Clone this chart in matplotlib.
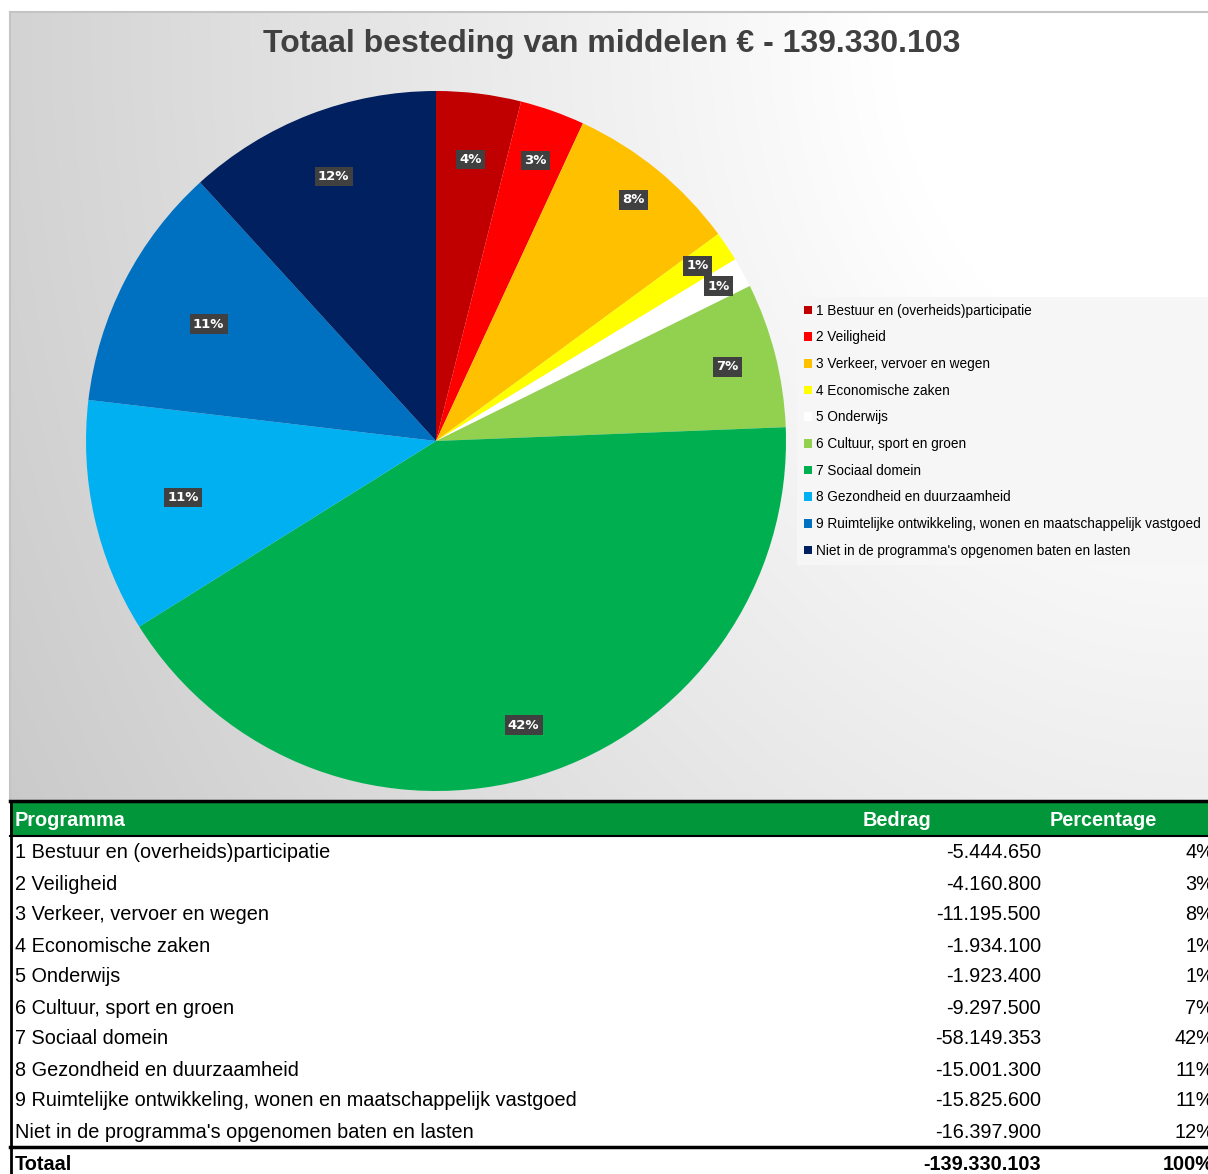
import matplotlib
matplotlib.use('Agg')
import matplotlib.pyplot as plt
import numpy as np
from matplotlib.patches import Rectangle, Patch

programmas = ['1 Bestuur en (overheids)participatie', '2 Veiligheid', '3 Verkeer, vervoer en wegen',
              '4 Economische zaken', '5 Onderwijs', '6 Cultuur, sport en groen', '7 Sociaal domein',
              '8 Gezondheid en duurzaamheid', '9 Ruimtelijke ontwikkeling, wonen en maatschappelijk vastgoed',
              "Niet in de programma's opgenomen baten en lasten"]
bedragen = [5444650, 4160800, 11195500, 1934100, 1923400, 9297500, 58149353, 15001300, 15825600, 16397900]
kleuren = ['#C00000', '#FF0000', '#FFC000', '#FFFF00', '#FFFFFF', '#92D050', '#00B050', '#00B0F0',
           '#0070C0', '#002060']

W, H = 1208, 1174
totaal = sum(bedragen)


def nl(n):
    return f"{n:,}".replace(',', '.')


fig = plt.figure(figsize=(W / 100, H / 100), dpi=100)
fig.patch.set_facecolor('white')

# achtergrond + tabel in pixel-coordinaten
bg = fig.add_axes([0, 0, 1, 1])
bg.set_xlim(0, W)
bg.set_ylim(H, 0)
bg.axis('off')

x0, x1, y0, y1 = 10, W, 12, 800
xx, yy = np.meshgrid(np.linspace(0, 1, 400), np.linspace(0, 1, 300))
u = 1 - xx
r = np.sqrt(u ** 2 + (0.55 * yy) ** 2)
val = 255 - 60 * np.clip(r - 0.267, 0, None)
img = np.dstack([val, val, val]) / 255
bg.imshow(img, extent=(x0, x1, y1, y0), aspect='auto', zorder=0, interpolation='bilinear')
bg.plot([x0, x1], [y0, y0], color='#c4c4c4', lw=1.5, zorder=1)
bg.plot([x0, x0], [y0, y1], color='#c4c4c4', lw=1.5, zorder=1)

bg.text(612, 44, 'Totaal besteding van middelen \u20ac - ' + nl(totaal), ha='center', va='center',
        fontsize=23, fontweight='bold', color='#404040', family='Liberation Sans')

# tabel
tf = 'Liberation Sans'
fs = 14.3
bg.add_patch(Rectangle((x0, 802), W - x0, 33, facecolor='#009639', edgecolor='none', zorder=2))
bg.plot([x0, W], [801, 801], color='black', lw=2.5, zorder=3)
bg.plot([x0, W], [835.5, 835.5], color='black', lw=1.5, zorder=3)
bg.plot([x0 + 0.5, x0 + 0.5], [801, H], color='black', lw=2, zorder=3)
bg.text(15, 818, 'Programma', ha='left', va='center_baseline', color='white', fontweight='bold', fontsize=fs, family=tf)
bg.text(897, 818, 'Bedrag', ha='center', va='center_baseline', color='white', fontweight='bold', fontsize=fs, family=tf)
bg.text(1103, 818, 'Percentage', ha='center', va='center_baseline', color='white', fontweight='bold', fontsize=fs, family=tf)

rij_y = 851
for naam, b in zip(programmas, bedragen):
    bg.text(15, rij_y, naam, ha='left', va='center_baseline', fontsize=fs, family=tf)
    bg.text(1041, rij_y, '-' + nl(b), ha='right', va='center_baseline', fontsize=fs, family=tf)
    bg.text(1214, rij_y, f"{round(100 * b / totaal)}%", ha='right', va='center_baseline', fontsize=fs, family=tf)
    rij_y += 31
bg.plot([x0, W], [1147, 1147], color='black', lw=2.5, zorder=3)
bg.text(15, 1163, 'Totaal', ha='left', va='center_baseline', fontsize=fs, fontweight='bold', family=tf)
bg.text(1041, 1163, '-' + nl(totaal), ha='right', va='center_baseline', fontsize=fs, fontweight='bold', family=tf)
bg.text(1214, 1163, '100%', ha='right', va='center_baseline', fontsize=fs, fontweight='bold', family=tf)

# taartdiagram
cx, cy, R = 436, 441, 350
ax = fig.add_axes([(cx - R) / W, (H - cy - R) / H, 2 * R / W, 2 * R / H])
ax.set_facecolor('none')
wedges, _ = ax.pie(bedragen, colors=kleuren, startangle=90, counterclock=False, radius=1,
                   wedgeprops=dict(linewidth=0))
ax.set_xlim(-1, 1)
ax.set_ylim(-1, 1)
ax.set_aspect('equal')
ax.axis('off')

# afstand van het label tot het midden, per punt
afstand = [0.81, 0.85, 0.89, 0.9, 0.92, 0.86, 0.85, 0.74, 0.73, 0.81]
for w, b, d in zip(wedges, bedragen, afstand):
    hoek = np.deg2rad((w.theta1 + w.theta2) / 2)
    ax.text(d * np.cos(hoek), d * np.sin(hoek), f"{round(100 * b / totaal)}%", ha='center', va='center',
            color='white', fontweight='bold', fontsize=9.5,
            bbox=dict(boxstyle='square,pad=0.25', facecolor='#404040', edgecolor='none'))

handles = [Patch(facecolor=k, edgecolor='none') for k in kleuren]
fig.legend(handles, programmas, loc='upper left', bbox_to_anchor=(797 / W, 1 - 297 / H),
           frameon=True, facecolor='#f6f6f6', edgecolor='none', framealpha=1, fancybox=False,
           handlelength=0.6, handleheight=0.6, handletextpad=0.3, labelspacing=0.93,
           borderpad=0.5, borderaxespad=0, prop={'family': 'Liberation Sans', 'size': 9.8})

fig.savefig('out.png', dpi=100)
